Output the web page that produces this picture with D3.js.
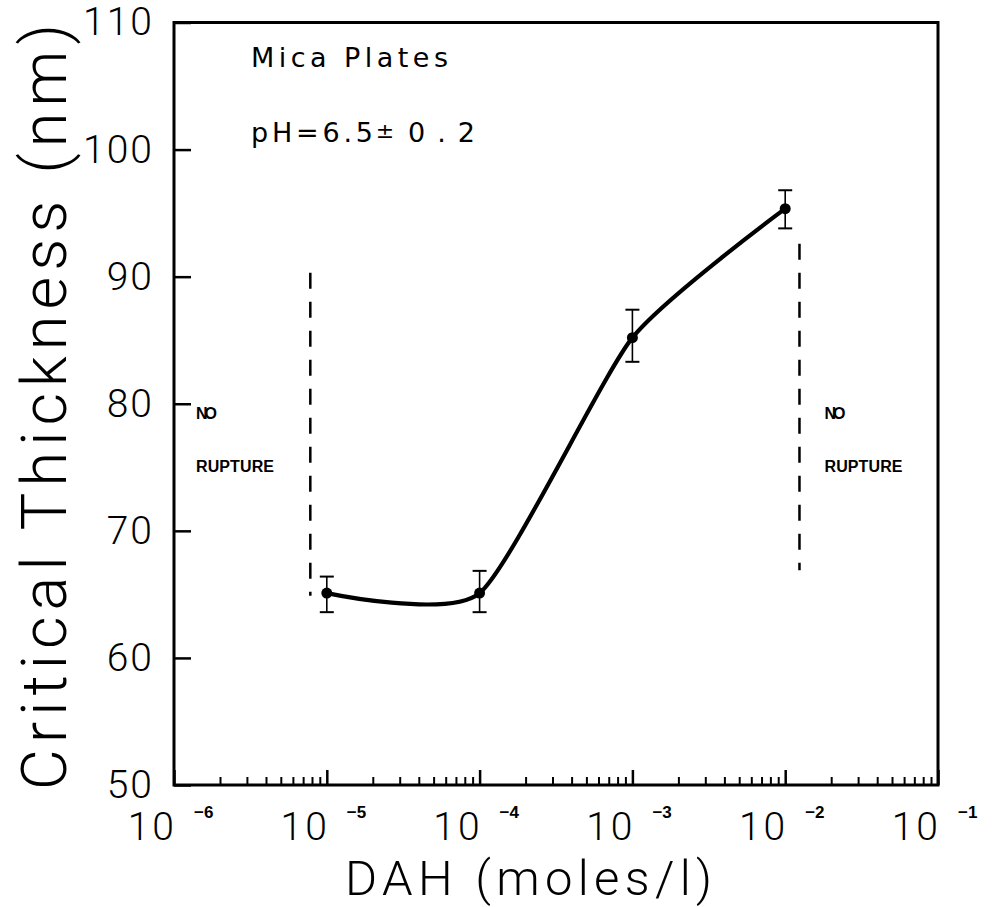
<!DOCTYPE html>
<html>
<head>
<meta charset="utf-8">
<script src="https://cdn.jsdelivr.net/npm/d3@7"></script>
<style>
  body { margin: 0; background: #fff; }
  svg { display: block; font-family: "Liberation Sans", Arial, sans-serif; }
  .thin { font-family: Roboto, "Liberation Sans", sans-serif; font-weight: 300; }
  .wide { font-family: "DejaVu Sans", sans-serif; }
</style>
</head>
<body>
<div id="chart"></div>
<script>
// data
const concentration = [1e-5, 1e-4, 1e-3, 1e-2];
const thickness = [65.1, 65.1, 85.2, 95.35];
const errLow = [63.6, 63.6, 83.3, 93.8];
const errHigh = [66.4, 66.85, 87.4, 96.8];

const yTicks = [50, 60, 70, 80, 90, 100, 110];
const decades = [-6, -5, -4, -3, -2, -1];

// "no rupture" boundaries
const boundaryConc = [7.8e-6, 1.24e-2];
const boundaryTop = [90.3, 92.6];
const boundaryBottom = [64.9, 66.9];

const W = 992, H = 907;
const svg = d3.select("#chart").append("svg").attr("width", W).attr("height", H);
svg.append("rect").attr("width", W).attr("height", H).attr("fill", "#fff");

const x = d3.scaleLog().domain([1e-6, 1e-1]).range([174, 938]);
const y = d3.scaleLinear().domain([50, 110]).range([785, 22.5]);

// frame
svg.append("rect")
    .attr("x", x.range()[0]).attr("y", y.range()[1])
    .attr("width", x.range()[1] - x.range()[0]).attr("height", y.range()[0] - y.range()[1])
    .attr("fill", "none").attr("stroke", "#000").attr("stroke-width", 3);

// y axis ticks + labels
const yAxis = svg.append("g").attr("transform", `translate(${x.range()[0]},0)`)
    .call(d3.axisLeft(y).tickValues(yTicks).tickSize(-17).tickPadding(20).tickFormat(d3.format("d")));
yAxis.select(".domain").remove();
yAxis.selectAll(".tick line").attr("stroke-width", 2.5);
yAxis.selectAll(".tick text").attr("class", "thin").style("font-size", "39px")
    .style("letter-spacing", "2px").attr("fill", "#000");

// x axis minor / major ticks
const minorVals = [];
decades.slice(0, -1).forEach(e => { for (let k = 2; k <= 9; k++) minorVals.push(k * Math.pow(10, e)); });
const majorVals = decades.map(e => Math.pow(10, e));

const xMinor = svg.append("g").attr("transform", `translate(0,${y.range()[0]})`)
    .call(d3.axisBottom(x).tickValues(minorVals).tickSize(-8).tickFormat(""));
xMinor.select(".domain").remove();
xMinor.selectAll(".tick line").attr("stroke-width", 2);

const xMajor = svg.append("g").attr("transform", `translate(0,${y.range()[0]})`)
    .call(d3.axisBottom(x).tickValues(majorVals).tickSize(-15).tickFormat(""));
xMajor.select(".domain").remove();
xMajor.selectAll(".tick line").attr("stroke-width", 2.5);

// x tick labels: 10 with exponent
const xl = svg.append("g");
decades.forEach(e => {
    const px = x(Math.pow(10, e));
    xl.append("text").attr("class", "thin").attr("x", px + 3).attr("y", 840)
        .attr("text-anchor", "end").style("font-size", "39px").style("letter-spacing", "3px").text("10");
    xl.append("text").attr("x", px + 20).attr("y", 818)
        .style("font-size", "17px").style("font-weight", "bold").text("\u2212" + Math.abs(e));
});

// axis titles
svg.append("text").attr("class", "thin").attr("x", 345).attr("y", 895)
    .style("font-size", "49px").attr("textLength", 367).text("DAH (moles/l)");

svg.append("text").attr("class", "thin").attr("transform", "translate(66,407) rotate(-90)")
    .attr("text-anchor", "middle").style("font-size", "63px")
    .attr("textLength", 766).text("Critical Thickness (nm)");

// annotations
svg.append("text").attr("class", "wide").attr("x", 251).attr("y", 67).style("font-size", "27px")
    .attr("textLength", 197).text("Mica Plates");
svg.append("text").attr("class", "wide").attr("x", 251).attr("y", 142).style("font-size", "27px")
    .attr("textLength", 122).text("pH=6.5");
svg.append("text").attr("class", "wide").attr("x", 385).attr("y", 138).attr("text-anchor", "middle")
    .style("font-size", "22px").text("\u00b1");
svg.append("text").attr("class", "wide").attr("x", 408).attr("y", 142).style("font-size", "27px")
    .attr("textLength", 67).text("0.2");

// dashed boundaries
boundaryConc.forEach((c, i) => {
    svg.append("line")
        .attr("x1", x(c)).attr("x2", x(c))
        .attr("y1", y(boundaryTop[i])).attr("y2", y(boundaryBottom[i]))
        .attr("stroke", "#000").attr("stroke-width", 2.5)
        .attr("stroke-dasharray", "16 13");
});

const labelX = [x.range()[0] + 22, x(boundaryConc[1]) + 25];
labelX.forEach(lx => {
    svg.append("text").attr("x", lx).attr("y", y(78.8)).style("font-size", "16px")
        .style("font-weight", "bold").attr("textLength", 21).text("NO");
    svg.append("text").attr("x", lx).attr("y", y(74.6)).style("font-size", "16px")
        .style("font-weight", "bold").attr("textLength", 78).text("RUPTURE");
});

// fitted curve
const pts = concentration.map((c, i) => [c, thickness[i]]);
const line = d3.line().x(d => x(d[0])).y(d => y(d[1])).curve(d3.curveCardinal.tension(0.4));
svg.append("path").datum(pts).attr("d", line)
    .attr("fill", "none").attr("stroke", "#000").attr("stroke-width", 4.2);

// error bars
const eb = svg.append("g").attr("stroke", "#000");
concentration.forEach((c, i) => {
    const px = x(c);
    eb.append("line").attr("x1", px).attr("x2", px).attr("y1", y(errHigh[i])).attr("y2", y(errLow[i])).attr("stroke-width", 1.6);
    eb.append("line").attr("x1", px - 7).attr("x2", px + 7).attr("y1", y(errHigh[i])).attr("y2", y(errHigh[i])).attr("stroke-width", 2);
    eb.append("line").attr("x1", px - 7).attr("x2", px + 7).attr("y1", y(errLow[i])).attr("y2", y(errLow[i])).attr("stroke-width", 2);
});

svg.selectAll(".dot").data(pts).enter().append("circle").attr("class", "dot")
    .attr("cx", d => x(d[0])).attr("cy", d => y(d[1])).attr("r", 5.5).attr("fill", "#000");
</script>
</body>
</html>
